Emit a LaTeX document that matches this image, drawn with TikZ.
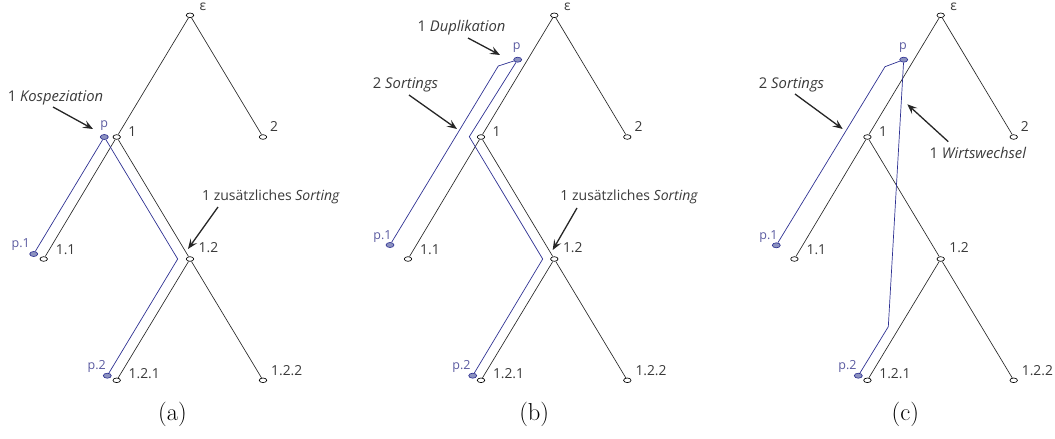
\documentclass[tikz,border=0pt]{standalone}
\usepackage{fontspec}
\newfontfamily\osans{Open Sans}
\usetikzlibrary{shapes.geometric,arrows.meta}
\definecolor{pblue}{HTML}{2E3192}
\definecolor{pfill}{HTML}{8C92C0}
\definecolor{plabel}{HTML}{5A5AA0}
\definecolor{txtgray}{HTML}{3A3A3A}
\newcommand\mytree[2]{%
  \begin{scope}[shift={(#2,0)}]
    \node[tn] (#1e)   at (190,15.3) {};
    \node[tn] (#1n1)  at (116.7,137) {};
    \node[tn] (#1n2)  at (263,137) {};
    \node[tn] (#1n11) at (43.7,259) {};
    \node[tn] (#1n12) at (190,259) {};
    \node[tn] (#1n121) at (116.7,380.3) {};
    \node[tn] (#1n122) at (263,380.3) {};
    \node[lbl] (#1le)   at ([shift={(9.5,-8)}]#1e) {ε};
    \node[lbl] (#1l1)   at ([shift={(11.5,-5)}]#1n1) {1};
    \node[lbl] (#1l2)   at ([shift={(7,-10)}]#1n2) {2};
    \node[lbl] (#1l11)  at ([shift={(12,-9)}]#1n11) {1.1};
    \node[lbl] (#1l12)  at ([shift={(8.5,-11)}]#1n12) {1.2};
    \node[lbl] (#1l121) at ([shift={(11.8,-7)}]#1n121) {1.2.1};
    \node[lbl] (#1l122) at ([shift={(8,-10)}]#1n122) {1.2.2};
    \draw[treeline] (#1e) -- (#1n1);
    \draw[treeline] (#1e) -- (#1n2);
    \draw[treeline] (#1n1) -- (#1n11);
    \draw[treeline] (#1n1) -- (#1n12);
    \draw[treeline] (#1n12) -- (#1n121);
    \draw[treeline] (#1n12) -- (#1n122);
  \end{scope}}
\begin{document}
\begin{tikzpicture}[x=1pt,y=-1pt,
  tn/.style={ellipse,draw=black,fill=white,line width=0.65pt,minimum width=7.5pt,minimum height=4.6pt,inner sep=0pt},
  pn/.style={ellipse,draw=pblue,fill=pfill,line width=0.65pt,minimum width=8pt,minimum height=5pt,inner sep=0pt},
  treeline/.style={line width=0.65pt,black!85},
  ppath/.style={line width=0.7pt,pblue},
  lbl/.style={font=\osans\fontsize{13.8}{15}\selectfont,text=txtgray,inner sep=0pt,anchor=west},
  plbl/.style={font=\osans\fontsize{12.5}{14}\selectfont,text=plabel,inner sep=0pt},
  ann/.style={font=\osans\fontsize{14.8}{17}\selectfont,text=txtgray,inner sep=0pt},
  annz/.style={ann,font=\osans\fontsize{14}{16}\selectfont},
  arr/.style={line width=1.3pt,black!85,-{Stealth[length=10pt,width=8pt,inset=4pt]}},
  captxt/.style={font=\fontsize{24.5}{28}\selectfont,inner sep=0pt}
]
\useasboundingbox (0,0) rectangle (1055,439);

% ---------------- (a)
\mytree{a}{0}
\node[pn] (ap)  at (104.3,137) {};
\node[pn] (ap1) at (33.7,254) {};
\node[pn] (ap2) at (107.3,375.7) {};
\node[plbl] (alp)  at ([shift={(0,-11)}]ap) {p};
\node[plbl,anchor=east] (alp1) at ([shift={(-3.7,-9)}]ap1) {p.1};
\node[plbl,anchor=east] (alp2) at ([shift={(-1.3,-9)}]ap2) {p.2};
\coordinate (ab1) at (177.7,259);
\draw[ppath] (ap1) -- (ap) -- (ab1) -- (ap2);
\node[ann] (aK) at (55.5,98) {1 \textit{Kospeziation}};
\coordinate (aKs) at (53,107);
\coordinate (aKe) at (93,129);
\draw[arr] (aKs) -- (aKe);
\node[annz] (aZ) at (271,197) {1 zusätzliches \textit{Sorting}};
\coordinate (aZs) at (218,207);
\coordinate (aZe) at (188,249);
\draw[arr] (aZs) -- (aZe);
\node[captxt] (capa) at (172.5,414) {(a)};

% ---------------- (b)
\mytree{b}{364.3}
\node[pn] (bp)  at (517.7,59.7) {};
\node[pn] (bp1) at (390,245) {};
\node[pn] (bp2) at (472.7,375.7) {};
\node[plbl] (blp)  at ([shift={(-1,-11.7)}]bp) {p};
\node[plbl,anchor=east] (blp1) at ([shift={(1.7,-8.3)}]bp1) {p.1};
\node[plbl,anchor=east] (blp2) at ([shift={(-2,-9)}]bp2) {p.2};
\coordinate (bb1) at (498.3,66);
\coordinate (bb2) at (469.3,136.7);
\coordinate (bb3) at (542.7,259);
\draw[ppath] (bp1) -- (bb1) -- (bp);
\draw[ppath] (bp) -- (bb2) -- (bb3) -- (bp2);
\node[ann] (bD) at (461.5,28) {1 \textit{Duplikation}};
\coordinate (bDs) at (468,38);
\coordinate (bDe) at (500,55);
\draw[arr] (bDs) -- (bDe);
\node[ann] (bS) at (405.5,85) {2 \textit{Sortings}};
\coordinate (bSs) at (409,95);
\coordinate (bSe) at (457,129);
\draw[arr] (bSs) -- (bSe);
\node[annz] (bZ) at (629.3,197) {1 zusätzliches \textit{Sorting}};
\coordinate (bZs) at (577,208);
\coordinate (bZe) at (552.7,250);
\draw[arr] (bZs) -- (bZe);
\node[captxt] (capb) at (534.2,414) {(b)};

% ---------------- (c)
\mytree{c}{750.7}
\node[pn] (cp)  at (903.7,59.7) {};
\node[pn] (cp1) at (776.3,245.3) {};
\node[pn] (cp2) at (858.3,375.7) {};
\node[plbl] (clp)  at ([shift={(-0.7,-11.7)}]cp) {p};
\node[plbl,anchor=east] (clp1) at ([shift={(1.4,-8.6)}]cp1) {p.1};
\node[plbl,anchor=east] (clp2) at ([shift={(-1.6,-9)}]cp2) {p.2};
\coordinate (cb1) at (885,66.7);
\coordinate (cb2) at (888.3,326.7);
\draw[ppath] (cp1) -- (cb1) -- (cp);
\draw[ppath] (cp) -- (cb2) -- (cp2);
\node[ann] (cS) at (791.5,85) {2 \textit{Sortings}};
\coordinate (cSs) at (795,94);
\coordinate (cSe) at (842.7,129);
\draw[arr] (cSs) -- (cSe);
\node[ann] (cW) at (978,153) {1 \textit{Wirtswechsel}};
\coordinate (cWs) at (948.3,141.7);
\coordinate (cWe) at (907.3,104.3);
\draw[arr] (cWs) -- (cWe);
\node[captxt] (capc) at (905.3,414) {(c)};
\end{tikzpicture}
\end{document}
